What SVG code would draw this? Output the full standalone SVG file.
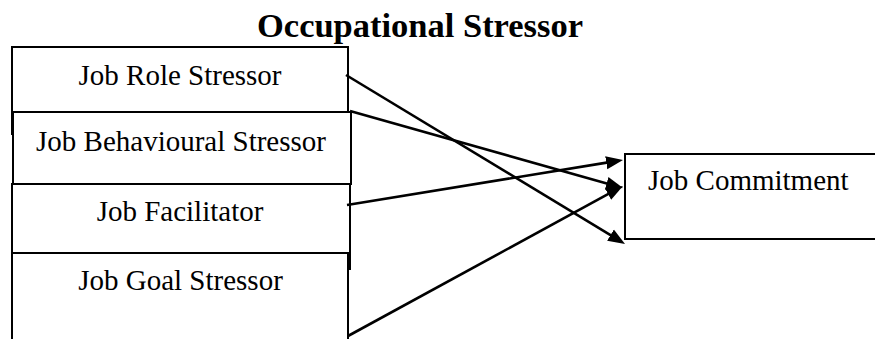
<svg xmlns="http://www.w3.org/2000/svg" width="875" height="339" viewBox="0 0 875 339">
<style>
.bx{fill:none;stroke:#000;stroke-width:2}
.t{font-family:"Liberation Serif","Times New Roman",serif;font-size:29px;fill:#000}
.ttl{font-family:"Liberation Serif","Times New Roman",serif;font-size:33px;font-weight:bold;fill:#000}
.c{stroke:#000;stroke-width:2.6;fill:none;marker-end:url(#ah)}
</style>
<defs>
<marker id="ah" markerUnits="userSpaceOnUse" markerWidth="17" markerHeight="14" refX="2" refY="7" orient="auto">
<path d="M0,0.5 L17,7 L0,13.5 z" fill="#000"/>
</marker>
</defs>
<rect width="875" height="339" fill="#fff"/>
<text class="ttl" x="257" y="37" textLength="326" lengthAdjust="spacingAndGlyphs">Occupational Stressor</text>
<g id="job-role">
<path class="bx" d="M12,135 L12,47 L348,47 L348,112"/>
<text class="t" x="180" y="85" text-anchor="middle">Job Role Stressor</text>
</g>
<g id="job-behavioural">
<path class="bx" d="M13,184 L13,112 L351,112 L351,185"/>
<text class="t" x="181" y="151" text-anchor="middle">Job Behavioural Stressor</text>
</g>
<g id="job-facilitator">
<path class="bx" d="M12,253 L12,184 L350,184 L350,270"/>
<text class="t" x="180" y="221" text-anchor="middle">Job Facilitator</text>
</g>
<g id="job-goal">
<path class="bx" d="M12,342 L12,253 L348,253 L348,342"/>
<text class="t" x="180.5" y="290" text-anchor="middle">Job Goal Stressor</text>
</g>
<g id="job-commitment">
<rect class="bx" x="625" y="154" width="254" height="85"/>
<text class="t" x="648" y="190">Job Commitment</text>
</g>
<g id="connectors">
<line class="c" x1="346" y1="75" x2="612.2" y2="236.2"/>
<line class="c" x1="350" y1="111" x2="608.6" y2="183.9"/>
<line class="c" x1="347" y1="205" x2="608.2" y2="162.4"/>
<line class="c" x1="348" y1="336" x2="609.8" y2="193.2"/>
</g>
</svg>
